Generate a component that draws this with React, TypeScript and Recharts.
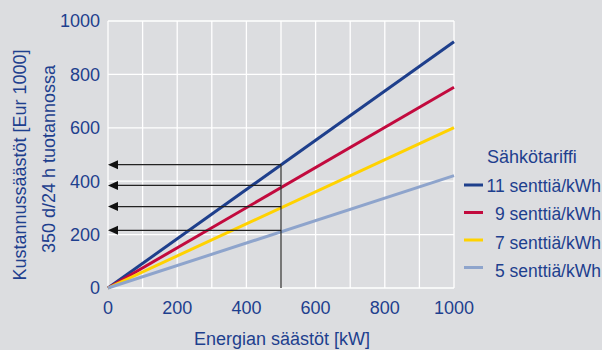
import React from 'react';
import { LineChart, Line, XAxis, YAxis, CartesianGrid, ReferenceLine } from 'recharts';

// kW savings on the x axis, cost savings (Eur 1000) on the y axis
const xTicks = [0, 100, 200, 300, 400, 500, 600, 700, 800, 900, 1000];
const yTicks = [0, 200, 400, 600, 800, 1000];

const tariffs = ['11 senttiä/kWh', '9 senttiä/kWh', '7 senttiä/kWh', '5 senttiä/kWh'];
const colors = ['#1e3f8c', '#c20a3e', '#ffd200', '#8ea4cc'];
const endValues = [922, 752, 601, 421];
const arrowValues = [462, 384, 305, 216];
const markX = 500;

const data = [
  { kw: 0, t11: 0, t9: 0, t7: 0, t5: 0 },
  { kw: 1000, t11: endValues[0], t9: endValues[1], t7: endValues[2], t5: endValues[3] },
];
const keys = ['t11', 't9', 't7', 't5'];

const TEXT = '#1e3f8e';
const BG = '#dcdde0';
const FONT = '"Liberation Sans", Arial, sans-serif';

const Arrow = (props: any) => {
  const { x1, y1, x2, y2 } = props;
  const left = Math.min(x1, x2);
  const right = Math.max(x1, x2);
  return (
    <g>
      <line x1={right} y1={y1} x2={left + 8} y2={y2} stroke="#222" strokeWidth={1.3} />
      <polygon
        points={`${left},${y1} ${left + 10},${y1 - 4.5} ${left + 10},${y1 + 4.5}`}
        fill="#111"
      />
    </g>
  );
};

export default function App() {
  return (
    <div
      style={{
        position: 'fixed',
        top: 0,
        left: 0,
        width: 602,
        height: 350,
        background: BG,
        fontFamily: FONT,
      }}
    >
      <LineChart
        width={602}
        height={350}
        data={data}
        margin={{ top: 21, right: 148, bottom: 32, left: 0 }}
      >
        <CartesianGrid stroke="#ffffff" strokeWidth={1.3} />
        <XAxis
          dataKey="kw"
          type="number"
          domain={[0, 1000]}
          ticks={xTicks}
          interval={0}
          height={30}
          tickFormatter={(v) => (v % 200 === 0 ? String(v) : '')}
          axisLine={false}
          tickLine={false}
          tickMargin={7}
          tick={{ fill: TEXT, fontSize: 18, fontFamily: FONT }}
        />
        <YAxis
          type="number"
          domain={[0, 1000]}
          ticks={yTicks}
          width={108}
          axisLine={false}
          tickLine={false}
          tick={{ fill: TEXT, fontSize: 18, fontFamily: FONT }}
        />
        {keys.map((k, i) => (
          <Line
            key={k}
            dataKey={k}
            stroke={colors[i]}
            strokeWidth={3}
            dot={false}
            isAnimationActive={false}
          />
        ))}
        <ReferenceLine
          segment={[
            { x: markX, y: 0 },
            { x: markX, y: arrowValues[0] },
          ]}
          stroke="#333"
          strokeWidth={1.3}
        />
        {arrowValues.map((v) => (
          <ReferenceLine
            key={v}
            segment={[
              { x: markX, y: v },
              { x: 0, y: v },
            ]}
            shape={Arrow}
          />
        ))}
      </LineChart>

      <svg
        width={602}
        height={350}
        style={{ position: 'absolute', top: 0, left: 0, pointerEvents: 'none' }}
      >
        <text
          transform="translate(26,165) rotate(-90)"
          textAnchor="middle"
          fill={TEXT}
          fontSize={18}
          fontFamily={FONT}
        >
          Kustannussäästöt [Eur 1000]
        </text>
        <text
          transform="translate(55,159) rotate(-90)"
          textAnchor="middle"
          fill={TEXT}
          fontSize={18}
          fontFamily={FONT}
        >
          350 d/24 h tuotannossa
        </text>
        <text x={282} y={345} textAnchor="middle" fill={TEXT} fontSize={18} fontFamily={FONT}>
          Energian säästöt [kW]
        </text>

        <text x={487} y={163} fill={TEXT} fontSize={18} fontFamily={FONT}>
          Sähkötariffi
        </text>
        {tariffs.map((t, i) => (
          <g key={t}>
            <line
              x1={464}
              x2={483}
              y1={185 + i * 27.5}
              y2={185 + i * 27.5}
              stroke={colors[i]}
              strokeWidth={3}
            />
            <text
              x={601}
              y={192 + i * 28.3}
              textAnchor="end"
              fill={TEXT}
              fontSize={17.5}
              fontFamily={FONT}
            >
              {t}
            </text>
          </g>
        ))}
      </svg>
    </div>
  );
}
